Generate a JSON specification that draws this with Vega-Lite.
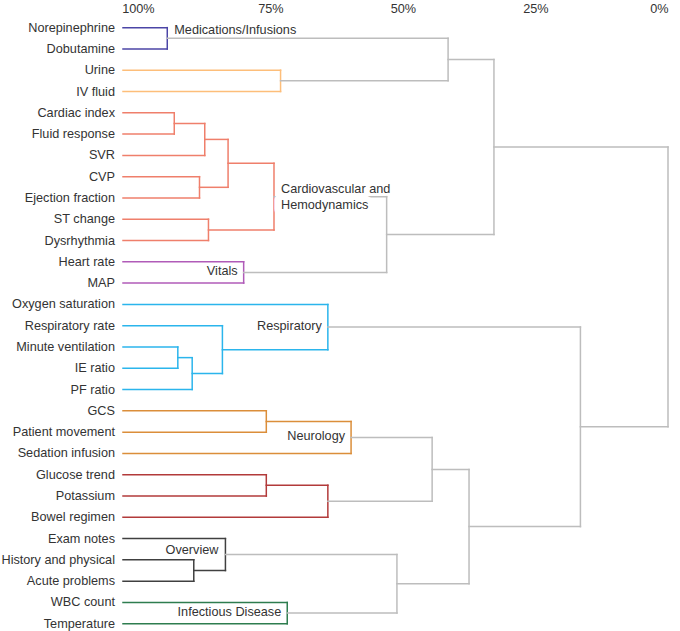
{
  "$schema": "https://vega.github.io/schema/vega-lite/v6.json",
  "autosize": {"type": "none"},
  "padding": {"left": 123, "top": 17, "right": 12, "bottom": 3},
  "width": 545,
  "height": 611,
  "background": "white",
  "config": {"view": {"stroke": null}, "font": "Liberation Sans"},
  "datasets": {
    "segments": [
      {"group": "Medications", "from": 102.8, "to": 94.45, "y1": 0, "y2": 0},
      {"group": "Medications", "from": 102.8, "to": 94.45, "y1": 1, "y2": 1},
      {"group": "Medications", "from": 94.45, "to": 94.45, "y1": 0, "y2": 1},
      {"group": "Urine", "from": 102.8, "to": 73.08, "y1": 2, "y2": 2},
      {"group": "Urine", "from": 102.8, "to": 73.08, "y1": 3, "y2": 3},
      {"group": "Urine", "from": 73.08, "to": 73.08, "y1": 2, "y2": 3},
      {"group": "Link", "from": 94.45, "to": 41.48, "y1": 0.5, "y2": 0.5},
      {"group": "Link", "from": 73.08, "to": 41.48, "y1": 2.5, "y2": 2.5},
      {"group": "Link", "from": 41.48, "to": 41.48, "y1": 0.5, "y2": 2.5},
      {"group": "Cardio", "from": 102.8, "to": 93.13, "y1": 4, "y2": 4},
      {"group": "Cardio", "from": 102.8, "to": 93.13, "y1": 5, "y2": 5},
      {"group": "Cardio", "from": 93.13, "to": 93.13, "y1": 4, "y2": 5},
      {"group": "Cardio", "from": 93.13, "to": 87.38, "y1": 4.5, "y2": 4.5},
      {"group": "Cardio", "from": 102.8, "to": 87.38, "y1": 6, "y2": 6},
      {"group": "Cardio", "from": 87.38, "to": 87.38, "y1": 4.5, "y2": 6},
      {"group": "Cardio", "from": 102.8, "to": 88.37, "y1": 7, "y2": 7},
      {"group": "Cardio", "from": 102.8, "to": 88.37, "y1": 8, "y2": 8},
      {"group": "Cardio", "from": 88.37, "to": 88.37, "y1": 7, "y2": 8},
      {"group": "Cardio", "from": 87.38, "to": 82.98, "y1": 5.25, "y2": 5.25},
      {"group": "Cardio", "from": 88.37, "to": 82.98, "y1": 7.5, "y2": 7.5},
      {"group": "Cardio", "from": 82.98, "to": 82.98, "y1": 5.25, "y2": 7.5},
      {"group": "Cardio", "from": 102.8, "to": 86.68, "y1": 9, "y2": 9},
      {"group": "Cardio", "from": 102.8, "to": 86.68, "y1": 10, "y2": 10},
      {"group": "Cardio", "from": 86.68, "to": 86.68, "y1": 9, "y2": 10},
      {"group": "Cardio", "from": 82.98, "to": 74.32, "y1": 6.375, "y2": 6.375},
      {"group": "Cardio", "from": 86.68, "to": 74.32, "y1": 9.5, "y2": 9.5},
      {"group": "Cardio", "from": 74.32, "to": 74.32, "y1": 6.375, "y2": 9.5},
      {"group": "Vitals", "from": 102.8, "to": 80.04, "y1": 11, "y2": 11},
      {"group": "Vitals", "from": 102.8, "to": 80.04, "y1": 12, "y2": 12},
      {"group": "Vitals", "from": 80.04, "to": 80.04, "y1": 11, "y2": 12},
      {"group": "Link", "from": 74.32, "to": 53.07, "y1": 7.9375, "y2": 7.9375},
      {"group": "Link", "from": 80.04, "to": 53.07, "y1": 11.5, "y2": 11.5},
      {"group": "Link", "from": 53.07, "to": 53.07, "y1": 7.9375, "y2": 11.5},
      {"group": "Link", "from": 41.48, "to": 32.83, "y1": 1.5, "y2": 1.5},
      {"group": "Link", "from": 53.07, "to": 32.83, "y1": 9.71875, "y2": 9.71875},
      {"group": "Link", "from": 32.83, "to": 32.83, "y1": 1.5, "y2": 9.71875},
      {"group": "Respiratory", "from": 102.8, "to": 92.46, "y1": 15, "y2": 15},
      {"group": "Respiratory", "from": 102.8, "to": 92.46, "y1": 16, "y2": 16},
      {"group": "Respiratory", "from": 92.46, "to": 92.46, "y1": 15, "y2": 16},
      {"group": "Respiratory", "from": 92.46, "to": 89.75, "y1": 15.5, "y2": 15.5},
      {"group": "Respiratory", "from": 102.8, "to": 89.75, "y1": 17, "y2": 17},
      {"group": "Respiratory", "from": 89.75, "to": 89.75, "y1": 15.5, "y2": 17},
      {"group": "Respiratory", "from": 102.8, "to": 84.05, "y1": 14, "y2": 14},
      {"group": "Respiratory", "from": 89.75, "to": 84.05, "y1": 16.25, "y2": 16.25},
      {"group": "Respiratory", "from": 84.05, "to": 84.05, "y1": 14, "y2": 16.25},
      {"group": "Respiratory", "from": 102.8, "to": 64.16, "y1": 13, "y2": 13},
      {"group": "Respiratory", "from": 84.05, "to": 64.16, "y1": 15.125, "y2": 15.125},
      {"group": "Respiratory", "from": 64.16, "to": 64.16, "y1": 13, "y2": 15.125},
      {"group": "Neurology", "from": 102.8, "to": 75.77, "y1": 18, "y2": 18},
      {"group": "Neurology", "from": 102.8, "to": 75.77, "y1": 19, "y2": 19},
      {"group": "Neurology", "from": 75.77, "to": 75.77, "y1": 18, "y2": 19},
      {"group": "Neurology", "from": 75.77, "to": 59.78, "y1": 18.5, "y2": 18.5},
      {"group": "Neurology", "from": 102.8, "to": 59.78, "y1": 20, "y2": 20},
      {"group": "Neurology", "from": 59.78, "to": 59.78, "y1": 18.5, "y2": 20},
      {"group": "Metabolic", "from": 102.8, "to": 75.77, "y1": 21, "y2": 21},
      {"group": "Metabolic", "from": 102.8, "to": 75.77, "y1": 22, "y2": 22},
      {"group": "Metabolic", "from": 75.77, "to": 75.77, "y1": 21, "y2": 22},
      {"group": "Metabolic", "from": 75.77, "to": 64.16, "y1": 21.5, "y2": 21.5},
      {"group": "Metabolic", "from": 102.8, "to": 64.16, "y1": 23, "y2": 23},
      {"group": "Metabolic", "from": 64.16, "to": 64.16, "y1": 21.5, "y2": 23},
      {"group": "Link", "from": 59.78, "to": 44.49, "y1": 19.25, "y2": 19.25},
      {"group": "Link", "from": 64.16, "to": 44.49, "y1": 22.25, "y2": 22.25},
      {"group": "Link", "from": 44.49, "to": 44.49, "y1": 19.25, "y2": 22.25},
      {"group": "Overview", "from": 102.8, "to": 89.45, "y1": 25, "y2": 25},
      {"group": "Overview", "from": 102.8, "to": 89.45, "y1": 26, "y2": 26},
      {"group": "Overview", "from": 89.45, "to": 89.45, "y1": 25, "y2": 26},
      {"group": "Overview", "from": 102.8, "to": 83.48, "y1": 24, "y2": 24},
      {"group": "Overview", "from": 89.45, "to": 83.48, "y1": 25.5, "y2": 25.5},
      {"group": "Overview", "from": 83.48, "to": 83.48, "y1": 24, "y2": 25.5},
      {"group": "Infectious", "from": 102.8, "to": 71.82, "y1": 27, "y2": 27},
      {"group": "Infectious", "from": 102.8, "to": 71.82, "y1": 28, "y2": 28},
      {"group": "Infectious", "from": 71.82, "to": 71.82, "y1": 27, "y2": 28},
      {"group": "Link", "from": 83.48, "to": 51.13, "y1": 24.75, "y2": 24.75},
      {"group": "Link", "from": 71.82, "to": 51.13, "y1": 27.5, "y2": 27.5},
      {"group": "Link", "from": 51.13, "to": 51.13, "y1": 24.75, "y2": 27.5},
      {"group": "Link", "from": 44.49, "to": 37.53, "y1": 20.75, "y2": 20.75},
      {"group": "Link", "from": 51.13, "to": 37.53, "y1": 26.125, "y2": 26.125},
      {"group": "Link", "from": 37.53, "to": 37.53, "y1": 20.75, "y2": 26.125},
      {"group": "Link", "from": 64.16, "to": 16.52, "y1": 14.0625, "y2": 14.0625},
      {"group": "Link", "from": 37.53, "to": 16.52, "y1": 23.4375, "y2": 23.4375},
      {"group": "Link", "from": 16.52, "to": 16.52, "y1": 14.0625, "y2": 23.4375},
      {"group": "Link", "from": 32.83, "to": 0, "y1": 5.609375, "y2": 5.609375},
      {"group": "Link", "from": 16.52, "to": 0, "y1": 18.75, "y2": 18.75},
      {"group": "Link", "from": 0, "to": 0, "y1": 5.609375, "y2": 18.75}
    ],
    "leaves": [
      {"name": "Norepinephrine", "pos": 0, "height": 102.8},
      {"name": "Dobutamine", "pos": 1, "height": 102.8},
      {"name": "Urine", "pos": 2, "height": 102.8},
      {"name": "IV fluid", "pos": 3, "height": 102.8},
      {"name": "Cardiac index", "pos": 4, "height": 102.8},
      {"name": "Fluid response", "pos": 5, "height": 102.8},
      {"name": "SVR", "pos": 6, "height": 102.8},
      {"name": "CVP", "pos": 7, "height": 102.8},
      {"name": "Ejection fraction", "pos": 8, "height": 102.8},
      {"name": "ST change", "pos": 9, "height": 102.8},
      {"name": "Dysrhythmia", "pos": 10, "height": 102.8},
      {"name": "Heart rate", "pos": 11, "height": 102.8},
      {"name": "MAP", "pos": 12, "height": 102.8},
      {"name": "Oxygen saturation", "pos": 13, "height": 102.8},
      {"name": "Respiratory rate", "pos": 14, "height": 102.8},
      {"name": "Minute ventilation", "pos": 15, "height": 102.8},
      {"name": "IE ratio", "pos": 16, "height": 102.8},
      {"name": "PF ratio", "pos": 17, "height": 102.8},
      {"name": "GCS", "pos": 18, "height": 102.8},
      {"name": "Patient movement", "pos": 19, "height": 102.8},
      {"name": "Sedation infusion", "pos": 20, "height": 102.8},
      {"name": "Glucose trend", "pos": 21, "height": 102.8},
      {"name": "Potassium", "pos": 22, "height": 102.8},
      {"name": "Bowel regimen", "pos": 23, "height": 102.8},
      {"name": "Exam notes", "pos": 24, "height": 102.8},
      {"name": "History and physical", "pos": 25, "height": 102.8},
      {"name": "Acute problems", "pos": 26, "height": 102.8},
      {"name": "WBC count", "pos": 27, "height": 102.8},
      {"name": "Temperature", "pos": 28, "height": 102.8}
    ],
    "clusters": [
      {"label": "Medications/Infusions", "height": 94.45, "pos": 0.5},
      {"label": "Cardiovascular and\nHemodynamics", "height": 74.32, "pos": 7.9375},
      {"label": "Vitals", "height": 80.04, "pos": 11.5},
      {"label": "Respiratory", "height": 64.16, "pos": 14.0625},
      {"label": "Neurology", "height": 59.78, "pos": 19.25},
      {"label": "Overview", "height": 83.48, "pos": 24.75},
      {"label": "Infectious Disease", "height": 71.82, "pos": 27.5}
    ]
  },
  "layer": [
    {
      "data": {"name": "segments"},
      "mark": {"type": "rule", "strokeWidth": 1.5, "strokeCap": "square"},
      "encoding": {
        "x": {"field": "from", "type": "quantitative",
          "scale": {"domain": [102.8, 0], "nice": false, "zero": false},
          "axis": {"orient": "top", "values": [100, 75, 50, 25, 0], "labelExpr": "datum.value + '%'",
            "domain": false, "ticks": false, "grid": false, "title": null, "labelFontSize": 12.7,
            "labelColor": "#333333", "labelPadding": 2, "labelFont": "Liberation Sans"}},
        "x2": {"field": "to"},
        "y": {"field": "y1", "type": "quantitative",
          "scale": {"domain": [-0.5, 28.2], "reverse": true, "nice": false, "zero": false},
          "axis": null},
        "y2": {"field": "y2"},
        "color": {"field": "group", "type": "nominal", "legend": null,
          "scale": {
            "domain": ["Link", "Medications", "Urine", "Cardio", "Vitals", "Respiratory", "Neurology", "Metabolic", "Overview", "Infectious"],
            "range": ["#bdbdbd", "#4b45a6", "#fdbe7a", "#ef7f6b", "#b05bb8", "#2bb5ec", "#db8e3a", "#b23a3a", "#404040", "#2e7d4f"]}}
      }
    },
    {
      "data": {"name": "leaves"},
      "mark": {"type": "text", "align": "right", "baseline": "middle", "dx": -8, "fontSize": 12.7, "color": "#333333", "font": "Liberation Sans"},
      "encoding": {
        "x": {"field": "height", "type": "quantitative"},
        "y": {"field": "pos", "type": "quantitative"},
        "text": {"field": "name", "type": "nominal"}
      }
    },
    {
      "data": {"name": "clusters"},
      "transform": [{"filter": {"field": "label", "oneOf": ["Cardiovascular and\nHemodynamics"]}}],
      "mark": {"type": "text", "align": "left", "baseline": "middle", "dx": 6, "dy": 8, "fontSize": 12.7, "color": "white", "stroke": "white", "strokeWidth": 13, "strokeJoin": "round", "font": "Liberation Sans"},
      "encoding": {
        "x": {"field": "height", "type": "quantitative"},
        "y": {"field": "pos", "type": "quantitative"},
        "text": {"value": "Hemodynamics"}
      }
    },
    {
      "data": {"name": "clusters"},
      "transform": [{"filter": {"field": "label", "oneOf": ["Medications/Infusions"]}}],
      "mark": {"type": "text", "align": "left", "baseline": "middle", "dx": 7, "dy": -8, "fontSize": 12.7, "color": "#333333", "font": "Liberation Sans"},
      "encoding": {
        "x": {"field": "height", "type": "quantitative"},
        "y": {"field": "pos", "type": "quantitative"},
        "text": {"field": "label", "type": "nominal"}
      }
    },
    {
      "data": {"name": "clusters"},
      "transform": [{"filter": {"field": "label", "oneOf": ["Cardiovascular and\nHemodynamics"]}}],
      "mark": {"type": "text", "align": "left", "baseline": "middle", "dx": 7, "dy": -8, "fontSize": 12.7, "lineBreak": "\n", "lineHeight": 16, "color": "#333333", "font": "Liberation Sans"},
      "encoding": {
        "x": {"field": "height", "type": "quantitative"},
        "y": {"field": "pos", "type": "quantitative"},
        "text": {"field": "label", "type": "nominal"}
      }
    },
    {
      "data": {"name": "clusters"},
      "transform": [{"filter": {"field": "label", "oneOf": ["Vitals", "Respiratory", "Neurology", "Infectious Disease"]}}],
      "mark": {"type": "text", "align": "right", "baseline": "middle", "dx": -6, "dy": -1, "fontSize": 12.7, "color": "#333333", "font": "Liberation Sans"},
      "encoding": {
        "x": {"field": "height", "type": "quantitative"},
        "y": {"field": "pos", "type": "quantitative"},
        "text": {"field": "label", "type": "nominal"}
      }
    },
    {
      "data": {"name": "clusters"},
      "transform": [{"filter": {"field": "label", "oneOf": ["Overview"]}}],
      "mark": {"type": "text", "align": "right", "baseline": "middle", "dx": -7, "dy": -5, "fontSize": 12.7, "color": "#333333", "font": "Liberation Sans"},
      "encoding": {
        "x": {"field": "height", "type": "quantitative"},
        "y": {"field": "pos", "type": "quantitative"},
        "text": {"field": "label", "type": "nominal"}
      }
    }
  ]
}
